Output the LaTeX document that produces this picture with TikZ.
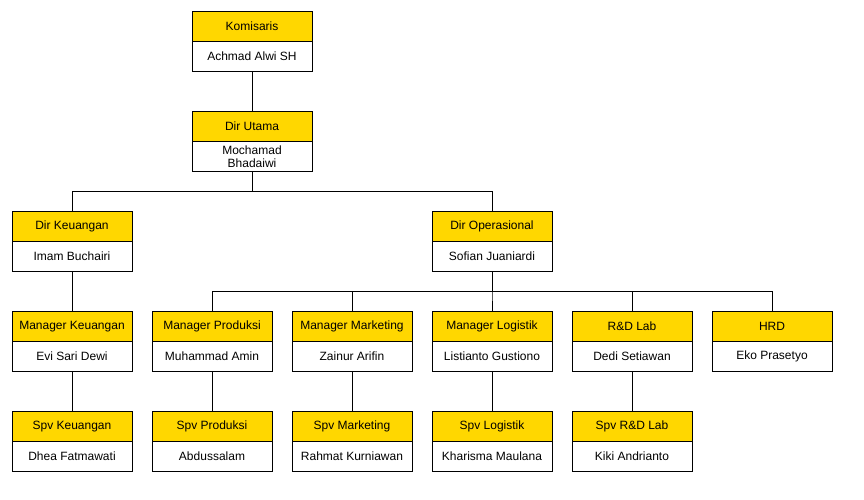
\documentclass[tikz,border=0pt]{standalone}
\usepackage{fontspec}
\setmainfont{Liberation Sans}
\usetikzlibrary{positioning}
\definecolor{jabatan}{HTML}{FFD700}
\tikzset{%
head/.style={draw,fill=jabatan,minimum width=120pt,minimum height=30pt,
             inner sep=0pt,outer sep=0pt,font=\fontsize{12}{13}\selectfont},
body/.style={draw,fill=white,minimum width=120pt,minimum height=30pt,
             inner sep=0pt,outer sep=0pt,align=center,font=\fontsize{12}{13}\selectfont},
link/.style={draw,line width=1pt}
}
\begin{document}
\begin{tikzpicture}[x=1pt,y=1pt,line width=1pt,node distance=0pt]
\useasboundingbox (0,0) rectangle (864,-499);
\node[head]               (komh) at (252,-26.3) {Komisaris};
\node[body,below=of komh] (komb)                {Achmad Alwi SH};
\node[head,below=40pt of komb] (utah)           {Dir Utama};
\node[body,below=of utah] (utab)                {Mochamad\\Bhadaiwi};
\node[head]               (keuh) at (72,-226.3)  {Dir Keuangan};
\node[body,below=of keuh] (keub)                 {Imam Buchairi};
\node[head]               (oprh) at (492,-226.3) {Dir Operasional};
\node[body,below=of oprh] (oprb)                 {Sofian Juaniardi};
\foreach \n/\x/\j/\p in {mkeu/72/Manager Keuangan/Evi Sari Dewi,
                         mprd/212/Manager Produksi/Muhammad Amin,
                         mmkt/352/Manager Marketing/Zainur Arifin,
                         mlog/492/Manager Logistik/Listianto Gustiono,
                         mrnd/632/R\&D Lab/Dedi Setiawan,
                         mhrd/772/HRD/Eko Prasetyo}
{
  \node[head]                (\n-h) at (\x,-326.3) {\j};
  \node[body,below=of \n-h]  (\n-b)                {\p};
}
\foreach \n/\x/\j/\p in {skeu/72/Spv Keuangan/Dhea Fatmawati,
                         sprd/212/Spv Produksi/Abdussalam,
                         smkt/352/Spv Marketing/Rahmat Kurniawan,
                         slog/492/Spv Logistik/Kharisma Maulana,
                         srnd/632/Spv R\&D Lab/Kiki Andrianto}
{
  \node[head]                (\n-h) at (\x,-426.3) {\j};
  \node[body,below=of \n-h]  (\n-b)                {\p};
}
\draw[link] (komb) -- (utah);
\foreach \c in {keuh,oprh}
  \draw[link] (utab.south) |- ([yshift=20pt]\c.north) -- (\c.north);
\draw[link] (keub) -- (mkeu-h);
\foreach \c in {mprd,mmkt,mlog,mrnd,mhrd}
  \draw[link] (oprb.south) |- ([yshift=20pt]\c-h.north) -- (\c-h.north);
\foreach \m/\s in {mkeu/skeu,mprd/sprd,mmkt/smkt,mlog/slog,mrnd/srnd}
  \draw[link] (\m-b) -- (\s-h);
\end{tikzpicture}
\end{document}
